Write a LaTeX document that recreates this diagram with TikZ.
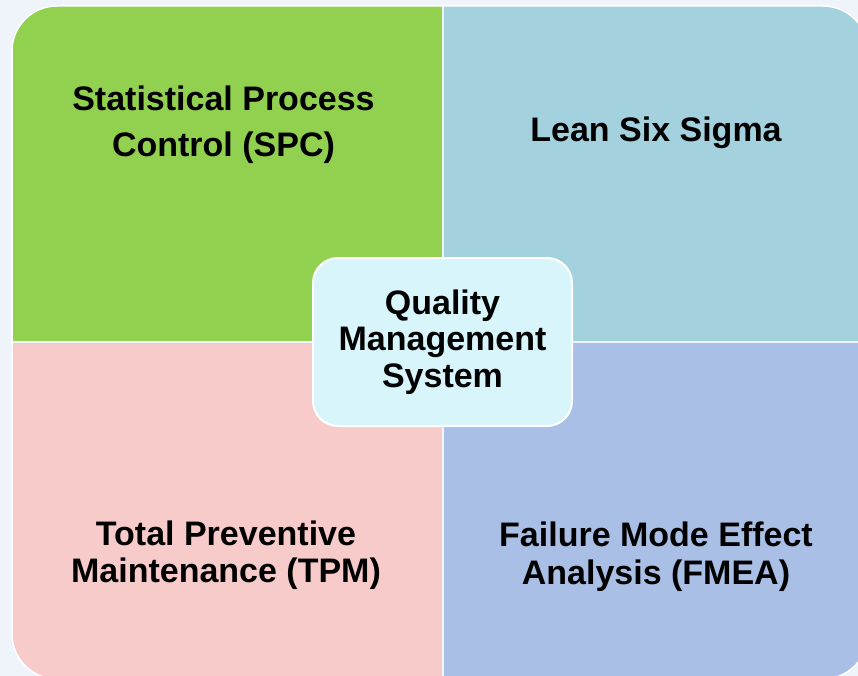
\documentclass[tikz,border=0pt]{standalone}
\usepackage{fontspec}
\setmainfont{Liberation Sans}
\definecolor{bgcol}{HTML}{EEF4FA}
\definecolor{spcgreen}{HTML}{92D050}
\definecolor{leanblue}{HTML}{A3D1DD}
\definecolor{tpmpink}{HTML}{F8CBCB}
\definecolor{fmeablue}{HTML}{A9BFE6}
\definecolor{qmsfill}{HTML}{D7F5FB}
\begin{document}
\begin{tikzpicture}[x=1pt,y=-1pt,
  lbl/.style={font=\fontsize{34}{36.5}\selectfont\bfseries, align=center, anchor=base, inner sep=0pt},
  centerbox/.style={draw=white, line width=2pt, fill=qmsfill, rounded corners=25pt,
    minimum width=259pt, minimum height=168pt, align=center, inner sep=0pt,
    font=\fontsize{34}{36.5}\selectfont\bfseries}]
\useasboundingbox (0,0) rectangle (858,676);
\fill[bgcol] (0,0) rectangle (858,676);
\begin{scope}
\clip[rounded corners=45pt] (12,6) rectangle (868,679);
\fill[spcgreen] (12,6) rectangle (441.5,341);
\fill[leanblue] (443.5,6) rectangle (868,341);
\fill[tpmpink] (12,343) rectangle (441.5,679);
\fill[fmeablue] (443.5,343) rectangle (868,679);
\end{scope}
\draw[white, line width=1.5pt, rounded corners=45pt] (12,6) rectangle (868,679);
\node[lbl, font=\fontsize{34}{46}\selectfont\bfseries] (spc) at (223.5,157) {Statistical Process\\Control (SPC)};
\node[lbl] (lss) at (656,142) {Lean Six Sigma};
\node[lbl] (tpm) at (226,582) {Total Preventive\\Maintenance (TPM)};
\node[lbl, font=\fontsize{34}{38}\selectfont\bfseries] (fmea) at (656,584) {Failure Mode Effect\\Analysis (FMEA)};
\node[centerbox] (qms) at (442.5,342) {Quality\\Management\\System};
\end{tikzpicture}
\end{document}
